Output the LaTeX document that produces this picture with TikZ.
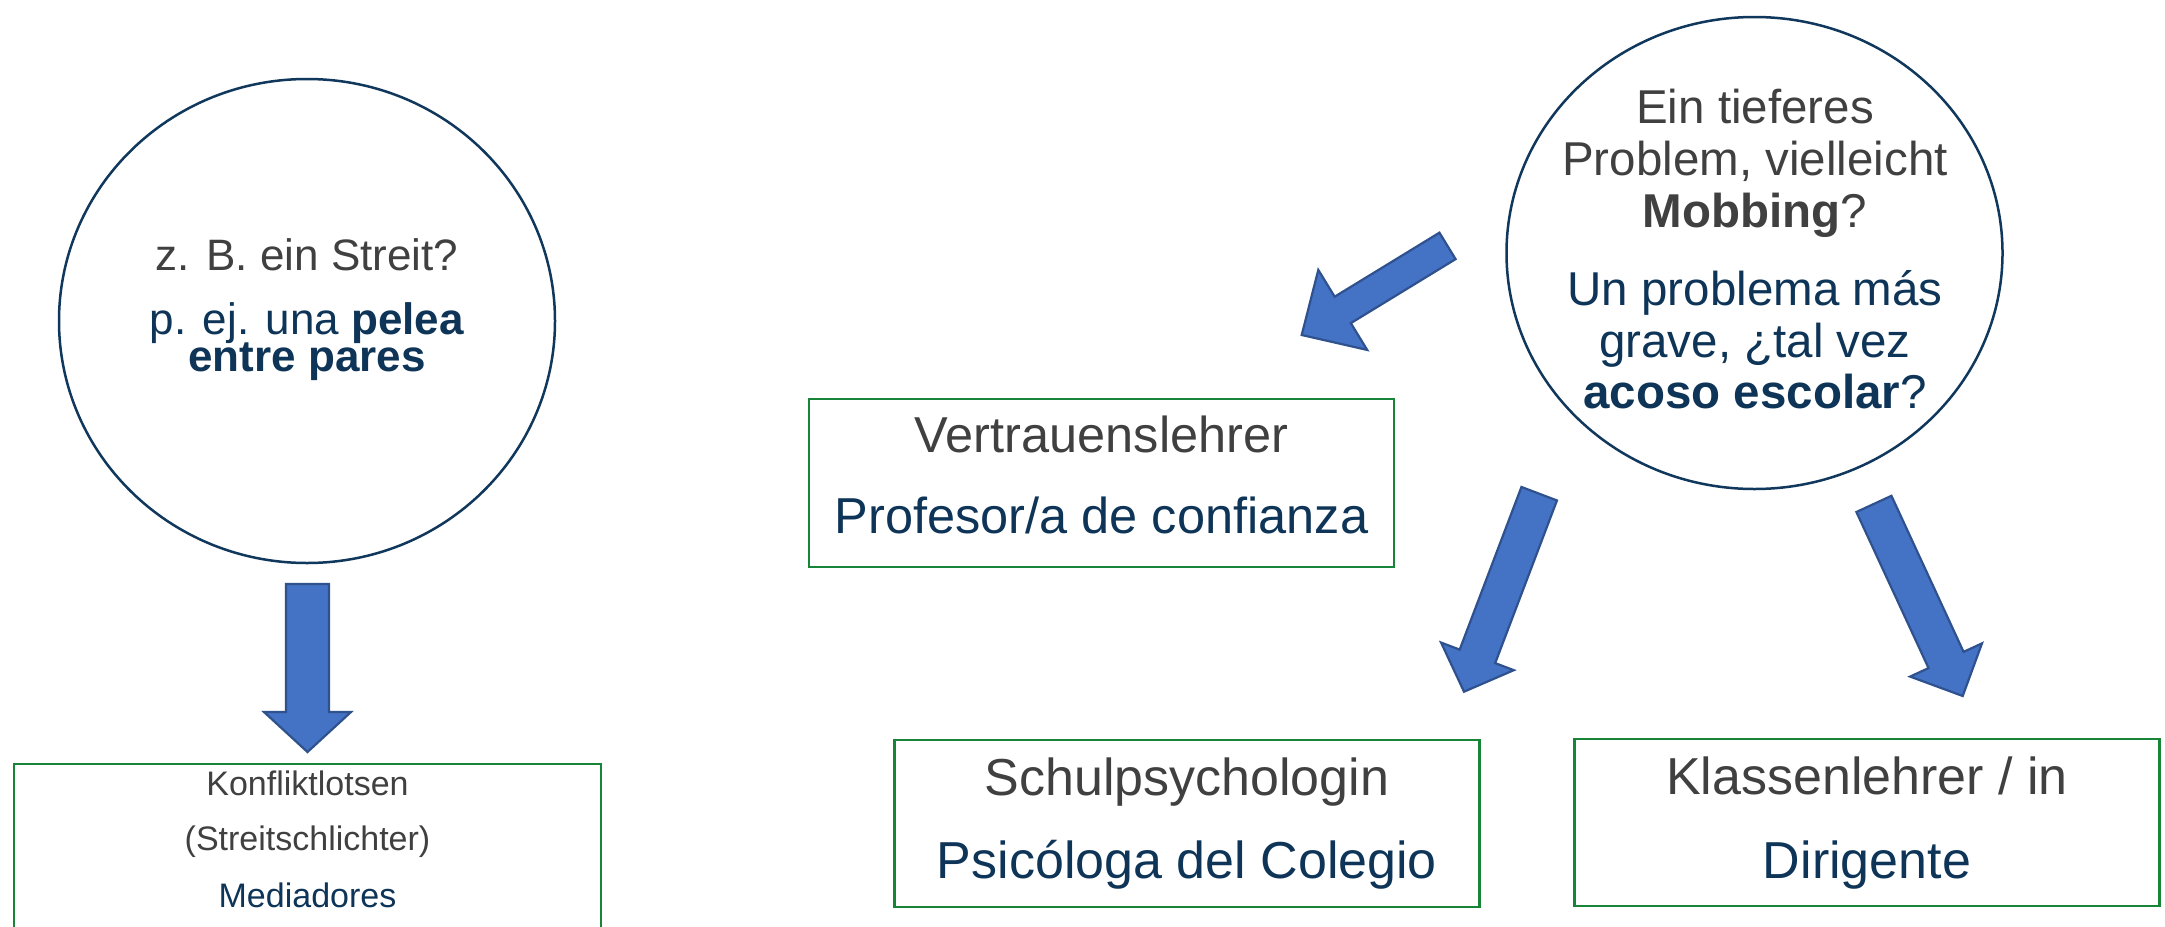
\documentclass[tikz,border=0pt]{standalone}
\usepackage{fontspec}
\setmainfont{Liberation Sans}
\usetikzlibrary{calc,shapes.geometric}
\definecolor{txtgray}{RGB}{64,64,64}
\definecolor{txtblue}{RGB}{14,53,88}
\definecolor{circline}{RGB}{16,55,92}
\definecolor{boxgreen}{RGB}{24,132,56}
\definecolor{arrfill}{RGB}{68,114,196}
\definecolor{arrline}{RGB}{47,82,143}
% block arrow: tail centre, tip, half shaft width, half head width, head length
\newcommand{\blkarrow}[5]{%
  \coordinate (bah) at ($(#2)!#5!(#1)$);
  \draw[blockarr] ($(#1)!#3!90:(#2)$) -- ($(bah)!#3!90:(#2)$) -- ($(bah)!#4!90:(#2)$) -- (#2)
    -- ($(bah)!#4!-90:(#2)$) -- ($(bah)!#3!-90:(#2)$) -- ($(#1)!#3!-90:(#2)$) -- cycle;}
\newcommand{\fsCirL}{\fontsize{44}{48}\selectfont}
\newcommand{\fsCirR}{\fontsize{47.5}{52}\selectfont}
\newcommand{\fsBox}{\fontsize{50.5}{55}\selectfont}
\newcommand{\fsBoxB}{\fontsize{52}{56}\selectfont}
\newcommand{\fsSmall}{\fontsize{34}{38}\selectfont}
\begin{document}
\begin{tikzpicture}[x=1pt,y=-1pt,
  bubble/.style={ellipse, draw=circline, line width=2.5pt, inner sep=0pt},
  greenbox/.style={rectangle, draw=boxgreen, line width=2.5pt, inner sep=0pt},
  lbl/.style={anchor=base, inner sep=0pt},
  gr/.style={lbl, text=txtgray},
  bl/.style={lbl, text=txtblue},
  blockarr/.style={fill=arrfill, draw=arrline, line width=2.2pt, line join=miter}]
\useasboundingbox[fill=white] (0,0) rectangle (2165,926);
\clip (0,0) rectangle (2165,926);

% shapes
\node[bubble, minimum width=496, minimum height=484] (c1) at (307,321) {};
\node[bubble, minimum width=496, minimum height=472] (c2) at (1754.5,253) {};
\node[greenbox, minimum width=585, minimum height=168] (b1) at (1101.5,483) {};
\node[greenbox, minimum width=585, minimum height=167] (b2) at (1187,823.5) {};
\node[greenbox, minimum width=585, minimum height=167] (b3) at (1867,822.5) {};
\node[greenbox, minimum width=587, minimum height=200] (b4) at (307.5,864) {};

% left circle text
\node[gr, font=\fsCirL] (c1a) at (307,270) {z. B. ein Streit?};
\node[bl, font=\fsCirL] (c1b) at (307,334) {p. ej. una \textbf{pelea}};
\node[bl, font=\fsCirL] (c1c) at (307,371) {\textbf{entre pares}};

% right circle text
\node[gr, font=\fsCirR] (c2a) at (1755,123) {Ein tieferes};
\node[gr, font=\fsCirR] (c2b) at (1755,175) {Problem, vielleicht};
\node[gr, font=\fsCirR] (c2c) at (1755,227) {\textbf{Mobbing}?};
\node[bl, font=\fsCirR] (c2d) at (1755,305) {Un problema más};
\node[bl, font=\fsCirR] (c2e) at (1755,357) {grave, ¿tal vez};
\node[bl, font=\fsCirR] (c2f) at (1755,408) {\textbf{acoso escolar}?};

% box texts
\node[gr, font=\fsBox] (b1a) at (1101.5,452) {Vertrauenslehrer};
\node[bl, font=\fsBox] (b1b) at (1101.5,533) {Profesor/a de confianza};
\node[gr, font=\fsBoxB] (b2a) at (1187,795) {Schulpsychologin};
\node[bl, font=\fsBoxB] (b2b) at (1187,878) {Psicóloga del Colegio};
\node[gr, font=\fsBoxB] (b3a) at (1867,794) {Klassenlehrer / in};
\node[bl, font=\fsBoxB] (b3b) at (1867,878) {Dirigente};
\node[gr, font=\fsSmall] (b4a) at (307.5,795) {Konfliktlotsen};
\node[gr, font=\fsSmall] (b4b) at (307.5,850) {(Streitschlichter)};
\node[bl, font=\fsSmall] (b4c) at (307.5,907) {Mediadores};

% block arrows
\coordinate (a1t) at (307.5,584);   \coordinate (a1h) at (307.5,752);
\coordinate (a2t) at (1447.5,245.9); \coordinate (a2h) at (1301.7,335);
\coordinate (a3t) at (1539.2,493.7); \coordinate (a3h) at (1464,691.7);
\coordinate (a4t) at (1873.9,503.9); \coordinate (a4h) at (1962.7,696);
\blkarrow{a1t}{a1h}{21.5pt}{43.5pt}{40pt}
\blkarrow{a2t}{a2h}{15.5pt}{46.9pt}{48.1pt}
\blkarrow{a3t}{a3h}{19pt}{38.9pt}{37.8pt}
\blkarrow{a4t}{a4h}{19.3pt}{39.6pt}{39.7pt}
\end{tikzpicture}
\end{document}
